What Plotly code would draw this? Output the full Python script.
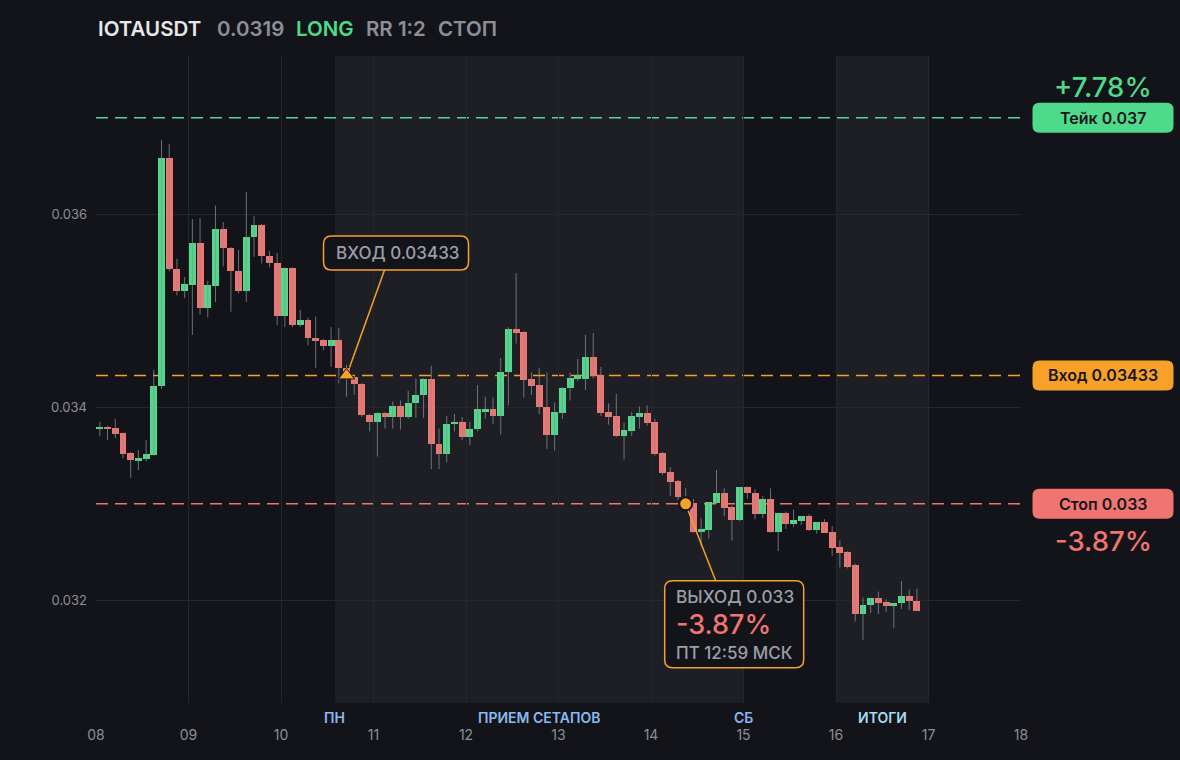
import pandas as pd
import plotly.graph_objects as go

# ---------------- data ----------------
start_time = "2025-03-08 01:00"
candle_step = "2h"

opens = [0.03377, 0.03380, 0.03379, 0.03373, 0.03353, 0.03345, 0.03346, 0.03351, 0.03422, 0.03658,
         0.03543, 0.03520, 0.03527, 0.03570, 0.03503, 0.03526, 0.03585, 0.03565, 0.03541, 0.03521,
         0.03576, 0.03589, 0.03557, 0.03550, 0.03495, 0.03544, 0.03485, 0.03490, 0.03472, 0.03470,
         0.03463, 0.03470, 0.03441, 0.03431, 0.03424, 0.03392, 0.03385, 0.03394, 0.03390, 0.03401,
         0.03390, 0.03404, 0.03413, 0.03429, 0.03362, 0.03352, 0.03383, 0.03385, 0.03369, 0.03378,
         0.03396, 0.03398, 0.03391, 0.03437, 0.03481, 0.03478, 0.03429, 0.03423, 0.03400, 0.03371,
         0.03394, 0.03420, 0.03429, 0.03429, 0.03452, 0.03433, 0.03395, 0.03391, 0.03370, 0.03375,
         0.03390, 0.03394, 0.03385, 0.03353, 0.03333, 0.03324, 0.03307, 0.03300, 0.03271, 0.03273,
         0.03301, 0.03311, 0.03297, 0.03283, 0.03317, 0.03311, 0.03289, 0.03305, 0.03271, 0.03290,
         0.03279, 0.03282, 0.03287, 0.03273, 0.03281, 0.03271, 0.03255, 0.03250, 0.03237, 0.03186,
         0.03195, 0.03202, 0.03198, 0.03194, 0.03197, 0.03204, 0.03199]
highs = [0.03385, 0.03381, 0.03388, 0.03374, 0.03354, 0.03356, 0.03366, 0.03439, 0.03677, 0.03673,
         0.03554, 0.03535, 0.03595, 0.03596, 0.03531, 0.03609, 0.03592, 0.03566, 0.03563, 0.03623,
         0.03598, 0.03590, 0.03562, 0.03560, 0.03545, 0.03545, 0.03501, 0.03493, 0.03494, 0.03471,
         0.03483, 0.03482, 0.03444, 0.03432, 0.03425, 0.03393, 0.03395, 0.03395, 0.03406, 0.03407,
         0.03417, 0.03430, 0.03430, 0.03443, 0.03378, 0.03391, 0.03393, 0.03390, 0.03385, 0.03423,
         0.03411, 0.03410, 0.03451, 0.03483, 0.03539, 0.03479, 0.03436, 0.03441, 0.03436, 0.03405,
         0.03421, 0.03436, 0.03450, 0.03475, 0.03477, 0.03442, 0.03404, 0.03414, 0.03384, 0.03395,
         0.03401, 0.03402, 0.03388, 0.03354, 0.03338, 0.03325, 0.03316, 0.03305, 0.03285, 0.03302,
         0.03335, 0.03316, 0.03298, 0.03317, 0.03318, 0.03315, 0.03308, 0.03316, 0.03291, 0.03292,
         0.03294, 0.03287, 0.03289, 0.03281, 0.03284, 0.03277, 0.03262, 0.03251, 0.03238, 0.03203,
         0.03203, 0.03209, 0.03201, 0.03197, 0.03220, 0.03211, 0.03212]
lows = [0.03370, 0.03366, 0.03368, 0.03347, 0.03327, 0.03335, 0.03344, 0.03350, 0.03419, 0.03541,
        0.03516, 0.03513, 0.03475, 0.03496, 0.03493, 0.03509, 0.03546, 0.03499, 0.03518, 0.03509,
        0.03556, 0.03549, 0.03545, 0.03485, 0.03483, 0.03483, 0.03483, 0.03464, 0.03441, 0.03459,
        0.03442, 0.03425, 0.03411, 0.03413, 0.03390, 0.03375, 0.03349, 0.03378, 0.03378, 0.03377,
        0.03388, 0.03389, 0.03389, 0.03336, 0.03336, 0.03343, 0.03375, 0.03366, 0.03361, 0.03375,
        0.03388, 0.03383, 0.03372, 0.03402, 0.03466, 0.03410, 0.03413, 0.03393, 0.03357, 0.03355,
        0.03388, 0.03407, 0.03427, 0.03418, 0.03430, 0.03391, 0.03382, 0.03369, 0.03346, 0.03370,
        0.03378, 0.03381, 0.03350, 0.03330, 0.03308, 0.03304, 0.03296, 0.03270, 0.03256, 0.03264,
        0.03300, 0.03287, 0.03262, 0.03282, 0.03305, 0.03284, 0.03285, 0.03270, 0.03251, 0.03274,
        0.03276, 0.03278, 0.03272, 0.03269, 0.03270, 0.03246, 0.03234, 0.03233, 0.03178, 0.03159,
        0.03187, 0.03186, 0.03188, 0.03171, 0.03191, 0.03190, 0.03189]
closes = [0.03380, 0.03378, 0.03372, 0.03352, 0.03345, 0.03347, 0.03352, 0.03422, 0.03658, 0.03543,
          0.03520, 0.03528, 0.03570, 0.03503, 0.03527, 0.03585, 0.03565, 0.03541, 0.03521, 0.03576,
          0.03589, 0.03557, 0.03550, 0.03495, 0.03544, 0.03485, 0.03490, 0.03472, 0.03469, 0.03463,
          0.03470, 0.03441, 0.03435, 0.03424, 0.03392, 0.03385, 0.03394, 0.03390, 0.03401, 0.03390,
          0.03404, 0.03413, 0.03429, 0.03362, 0.03352, 0.03383, 0.03385, 0.03369, 0.03378, 0.03398,
          0.03398, 0.03391, 0.03437, 0.03481, 0.03477, 0.03428, 0.03422, 0.03400, 0.03371, 0.03395,
          0.03420, 0.03430, 0.03433, 0.03452, 0.03432, 0.03394, 0.03390, 0.03370, 0.03376, 0.03391,
          0.03394, 0.03384, 0.03352, 0.03332, 0.03323, 0.03307, 0.03299, 0.03271, 0.03274, 0.03302,
          0.03311, 0.03296, 0.03283, 0.03317, 0.03311, 0.03289, 0.03305, 0.03271, 0.03290, 0.03279,
          0.03283, 0.03287, 0.03273, 0.03281, 0.03270, 0.03254, 0.03249, 0.03235, 0.03186, 0.03195,
          0.03202, 0.03197, 0.03194, 0.03197, 0.03204, 0.03199, 0.03189]

symbol = "IOTAUSDT"
last_price = "0.0319"
take_price = 0.037
entry_price = 0.03433
stop_price = 0.033
exit_price = 0.033
take_pct = "+7.78%"
stop_pct = "-3.87%"
entry_candle = 32      # index of the candle where the entry happened
exit_candle = 76       # index of the candle where the exit happened
exit_time_label = "ПТ 12:59 МСК"

x_tick_labels = ["08", "09", "10", "11", "12", "13", "14", "15", "16", "17", "18"]
x_tick_days = ["2025-03-%s" % d for d in x_tick_labels]
y_tick_vals = [0.032, 0.034, 0.036]
y_tick_text = ["0.032", "0.034", "0.036"]

session_start = "2025-03-10 14:00"
session_end = "2025-03-15 00:00"
results_start = "2025-03-16 00:00"
results_end = "2025-03-17 00:00"
band_labels = ["ПН", "ПРИЕМ СЕТАПОВ", "СБ", "ИТОГИ"]
band_label_pos = ["2025-03-10 14:00", "2025-03-12 19:00", "2025-03-15 00:00", "2025-03-16 12:00"]

# ---------------- style ----------------
BG = "#131419"
SHADE = "#1e1f24"
GRID = "#26272d"
GREEN = "#4fd98a"
RED = "#f07470"
ORANGE = "#f7a128"
GRAY = "#8c8f97"
TEXTGRAY = "#9c9fa7"
BLUE1 = "#8bb9f0"
BLUE2 = "#a6dcf4"
FONT = "Inter"

times = pd.date_range(start_time, periods=len(opens), freq=candle_step)
bar_ms = 1.8 * 3600 * 1000

body_base = [min(o, c) for o, c in zip(opens, closes)]
body_h = [max(abs(c - o), 0.000014) for o, c in zip(opens, closes)]
body_col = [GREEN if c >= o else RED for o, c in zip(opens, closes)]

wx, wy = [], []
for t, h, l in zip(times, highs, lows):
    wx += [t, t, None]
    wy += [l, h, None]

fig = go.Figure()
fig.add_trace(go.Scatter(x=wx, y=wy, mode="lines",
                         line=dict(color="rgba(140,143,151,0.75)", width=1),
                         hoverinfo="skip", showlegend=False))
fig.add_trace(go.Bar(x=times, y=body_h, base=body_base, width=bar_ms,
                     marker=dict(color=body_col, line=dict(width=0)),
                     showlegend=False))
fig.add_trace(go.Scatter(x=[times[entry_candle]], y=[entry_price], mode="markers",
                         marker=dict(symbol="triangle-up", size=14, color=ORANGE,
                                     line=dict(color=BG, width=1)),
                         showlegend=False))
fig.add_trace(go.Scatter(x=[times[exit_candle]], y=[exit_price], mode="markers",
                         marker=dict(symbol="circle", size=13, color=ORANGE,
                                     line=dict(color=BG, width=2)),
                         showlegend=False))


def rounded(x0, y0, x1, y1, r):
    # pixel path, y up
    return (f"M {x0 + r},{y0} L {x1 - r},{y0} Q {x1},{y0} {x1},{y0 + r} "
            f"L {x1},{y1 - r} Q {x1},{y1} {x1 - r},{y1} L {x0 + r},{y1} "
            f"Q {x0},{y1} {x0},{y1 - r} L {x0},{y0 + r} Q {x0},{y0} {x0 + r},{y0} Z")


shapes = []
# shaded bands
for a, b in [(session_start, session_end), (results_start, results_end)]:
    shapes.append(dict(type="rect", xref="x", yref="paper", x0=a, x1=b, y0=0, y1=1,
                       fillcolor=SHADE, line=dict(width=0), layer="below"))
# level lines
for lvl, col in [(take_price, GREEN), (entry_price, ORANGE), (stop_price, RED)]:
    shapes.append(dict(type="line", xref="paper", yref="y", x0=0, x1=1, y0=lvl, y1=lvl,
                       line=dict(color=col, width=1.6, dash="12px,7px"), layer="between"))

# connectors
shapes.append(dict(type="line", xref="x", yref="y", xsizemode="pixel", ysizemode="pixel",
                   xanchor=times[entry_candle], yanchor=entry_price,
                   x0=3, y0=8, x1=38, y1=105.5, line=dict(color=ORANGE, width=1.5), layer="above"))
shapes.append(dict(type="line", xref="x", yref="y", xsizemode="pixel", ysizemode="pixel",
                   xanchor=times[exit_candle], yanchor=exit_price,
                   x0=2.5, y0=-7, x1=30, y1=-77, line=dict(color=ORANGE, width=1.5), layer="above"))
# annotation boxes
shapes.append(dict(type="path", xref="x", yref="y", xsizemode="pixel", ysizemode="pixel",
                   xanchor=times[entry_candle], yanchor=entry_price,
                   path=rounded(-23, 105.5, 122, 139.5, 8),
                   fillcolor=BG, line=dict(color=ORANGE, width=1.5), layer="above"))
shapes.append(dict(type="path", xref="x", yref="y", xsizemode="pixel", ysizemode="pixel",
                   xanchor=times[exit_candle], yanchor=exit_price,
                   path=rounded(-21, -164, 118, -77, 8),
                   fillcolor=BG, line=dict(color=ORANGE, width=1.5), layer="above"))
# right side price boxes
for lvl, col in [(take_price, GREEN), (entry_price, ORANGE), (stop_price, RED)]:
    shapes.append(dict(type="path", xref="paper", yref="y", xsizemode="pixel", ysizemode="pixel",
                       xanchor=1, yanchor=lvl, path=rounded(11.5, -15, 152.5, 15, 7),
                       fillcolor=col, line=dict(width=0), layer="above"))

ann = []
# header
hx = [(symbol, "#e6e7ea", 0.0), (last_price, GRAY, 119), ("LONG", GREEN, 198),
      ("RR 1:2", GRAY, 268), ("СТОП", GRAY, 340)]
for txt, col, dx in hx:
    ann.append(dict(text=txt, xref="paper", yref="paper", x=0, y=1, xanchor="left", yanchor="middle",
                    xshift=dx, yshift=28, showarrow=False,
                    font=dict(family=FONT, size=20.5, color=col, weight=600)))
# right labels
for lvl, txt in [(take_price, "Тейк 0.037"), (entry_price, "Вход 0.03433"), (stop_price, "Стоп 0.033")]:
    ann.append(dict(text=txt, xref="paper", yref="y", x=1, y=lvl, xshift=82, xanchor="center",
                    yanchor="middle", showarrow=False,
                    font=dict(family=FONT, size=16, color="#16171b", weight=600)))
ann.append(dict(text=take_pct, xref="paper", yref="y", x=1, y=take_price, xshift=82, yshift=31,
                xanchor="center", yanchor="middle", showarrow=False,
                font=dict(family=FONT, size=27.5, color=GREEN, weight=500)))
ann.append(dict(text=stop_pct, xref="paper", yref="y", x=1, y=stop_price, xshift=82, yshift=-37,
                xanchor="center", yanchor="middle", showarrow=False,
                font=dict(family=FONT, size=27.5, color=RED, weight=500)))
# entry box text
ann.append(dict(text="ВХОД %s" % entry_price, x=times[entry_candle], y=entry_price,
                xshift=-13, yshift=122.5, xanchor="left", yanchor="middle", showarrow=False,
                font=dict(family=FONT, size=17, color=TEXTGRAY, weight=500)))
# exit box text
ann.append(dict(text="ВЫХОД %s" % exit_price, x=times[exit_candle], y=exit_price,
                xshift=-11, yshift=-93, xanchor="left", yanchor="middle", showarrow=False,
                borderpad=0, font=dict(family=FONT, size=17.2, color=TEXTGRAY, weight=500)))
ann.append(dict(text=stop_pct, x=times[exit_candle], y=exit_price,
                xshift=-11, yshift=-121, xanchor="left", yanchor="middle", showarrow=False,
                borderpad=0, font=dict(family=FONT, size=27, color=RED, weight=500)))
ann.append(dict(text=exit_time_label, x=times[exit_candle], y=exit_price,
                xshift=-11, yshift=-149.5, xanchor="left", yanchor="middle", showarrow=False,
                borderpad=0, font=dict(family=FONT, size=17, color=TEXTGRAY, weight=500)))
# band labels
for txt, pos in zip(band_labels, band_label_pos):
    ann.append(dict(text=txt, x=pos, xref="x", yref="paper", y=0, yshift=-14, xanchor="center",
                    yanchor="middle", showarrow=False,
                    font=dict(family=FONT, size=14, color=BLUE2 if txt == "ИТОГИ" else BLUE1,
                              weight=600)))

fig.update_layout(
    width=1180, height=760,
    margin=dict(l=96, r=158.5, t=56, b=57),
    paper_bgcolor=BG, plot_bgcolor=BG,
    font=dict(family=FONT, color=GRAY),
    showlegend=False, bargap=0,
    shapes=shapes, annotations=ann,
    xaxis=dict(type="date", range=["2025-03-08", "2025-03-18"], tickvals=x_tick_days,
               ticktext=x_tick_labels, showgrid=True, gridcolor=GRID, gridwidth=1,
               zeroline=False, showline=False, ticks="", ticklabelstandoff=22,
               tickfont=dict(family=FONT, size=14, color=GRAY), fixedrange=True),
    yaxis=dict(range=[0.030936, 0.03764], tickvals=y_tick_vals, ticktext=y_tick_text,
               showgrid=True, gridcolor=GRID, gridwidth=1, zeroline=False, showline=False,
               ticks="", ticklabelstandoff=8,
               tickfont=dict(family=FONT, size=13, color=GRAY), fixedrange=True),
)

fig.write_html("out.html", config=dict(displayModeBar=False),
               post_script="document.body.style.margin='0';document.body.style.overflow='hidden';"
                           "document.body.style.background='%s';" % BG)
